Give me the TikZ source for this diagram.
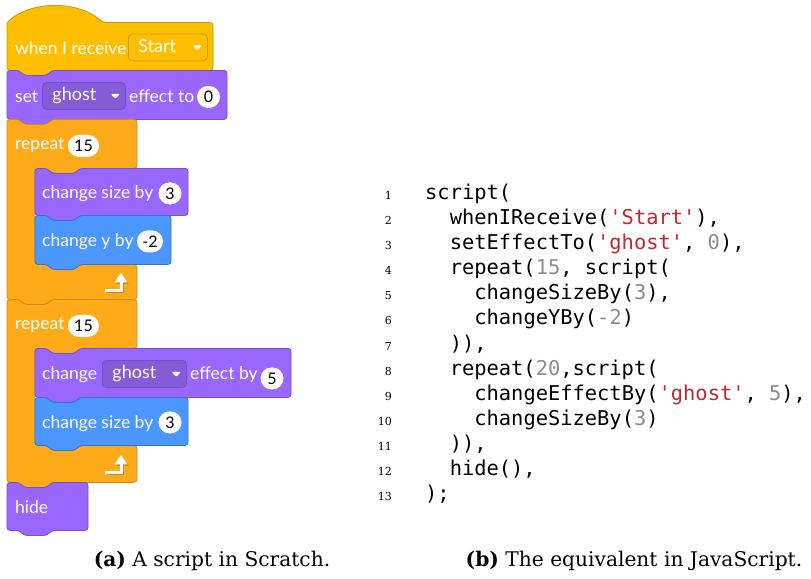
\documentclass[tikz,border=0pt]{standalone}
\usepackage{fontspec}
\setmainfont{DejaVu Serif}
\setmonofont{DejaVu Sans Mono}
\newfontfamily\scratchfont{Lato}
\usetikzlibrary{positioning}

\definecolor{evfill}{HTML}{FFBF00}
\definecolor{evline}{HTML}{CC9900}
\definecolor{lkfill}{HTML}{9966FF}
\definecolor{lkline}{HTML}{774DCB}
\definecolor{lkdrop}{HTML}{855CD6}
\definecolor{ctfill}{HTML}{FFAB19}
\definecolor{ctline}{HTML}{CF8B17}
\definecolor{mofill}{HTML}{4C97FF}
\definecolor{moline}{HTML}{3373CC}
\definecolor{jsred}{HTML}{C4262E}
\definecolor{jsgray}{HTML}{8C8C8C}

\newcommand\jsstr[1]{\textcolor{jsred}{#1}}
\newcommand\jsnum[1]{\textcolor{jsgray}{#1}}

% stack block: x, y, width, height, fill, line
\newcommand\stackblk[6]{%
    \draw[blk, fill=#5, draw=#6] (#1,#2) -- (#1+12,#2) -- ++(5,5) -- ++(23,0) -- ++(5,-5)
        -- (#1+#3,#2) -- (#1+#3,#2+#4) -- (#1+45,#2+#4) -- ++(-5,5) -- ++(-23,0) -- ++(-5,-5)
        -- (#1,#2+#4) -- cycle;}
% repeat block: top, arm bottom, lower arm top, bottom
\newcommand\repeatblk[4]{%
    \draw[blk, fill=ctfill, draw=ctline] (7,#1) -- (19,#1) -- ++(5,5) -- ++(23,0) -- ++(5,-5)
        -- (137,#1) -- (137,#2) -- (80,#2) -- ++(-5,5) -- ++(-23,0) -- ++(-5,-5) -- (35,#2)
        -- (35,#3) -- (47,#3) -- ++(5,5) -- ++(23,0) -- ++(5,-5) -- (137,#3) -- (137,#4)
        -- (52,#4) -- ++(-5,5) -- ++(-23,0) -- ++(-5,-5) -- (7,#4) -- cycle;}
% loop arrow at centre height
\newcommand\looparrow[1]{%
    \begin{scope}[shift={(1.5,1.5)}]
        \draw[ctline, line width=3pt] (105,#1+8) -- (121,#1+8) -- (121,#1-0.5);
        \fill[ctline, rounded corners=0.8pt] (114.5,#1) -- (121,#1-9.5) -- (127.5,#1) -- cycle;
    \end{scope}
    \draw[white, line width=3pt] (105,#1+8) -- (121,#1+8) -- (121,#1-0.5);
    \fill[white, rounded corners=0.8pt] (114.5,#1) -- (121,#1-9.5) -- (127.5,#1) -- cycle;}
\newcommand\droptri[1]{%
    \fill[white, rounded corners=1pt] ([shift={(-15,-2)}]#1.east) -- ++(9,0) -- ++(-4.5,5) -- cycle;}

\tikzset{
    blk/.style={line width=0.8pt, rounded corners=3pt},
    lbl/.style={anchor=base west, inner sep=0, text=white, font=\scratchfont\fontsize{17.5}{20}\selectfont},
    num/.style={fill=white, rounded corners=11pt, minimum height=22pt, minimum width=23pt,
        inner xsep=5pt, inner ysep=0, text height=11.5pt, text depth=0pt, text=black,
        font=\scratchfont\fontsize{16}{18}\selectfont},
    drop/.style={rounded corners=4pt, line width=0.8pt, minimum height=27pt, inner xsep=10pt,
        inner ysep=0, text height=13pt, text depth=3pt, anchor=west, align=left, text=white,
        font=\scratchfont\fontsize{18}{20}\selectfont},
    code/.style={anchor=base west, inner sep=0, font=\ttfamily\fontsize{20.4}{24}\selectfont},
    lineno/.style={anchor=base east, inner sep=0, font=\fontsize{11}{13}\selectfont},
    captext/.style={anchor=base, inner sep=0, font=\fontsize{20.2}{24}\selectfont}
}

\begin{document}
\begin{tikzpicture}[x=1pt, y=-1pt]
    \fill[white] (0,0) rectangle (811,577);

    % Scratch script
    \draw[blk, fill=evfill, draw=evline] (7,69) -- (7,21) .. controls (32,-1) and (78,-1) .. (103,21)
        -- (213,21) -- (213,69) -- (52,69) -- ++(-5,5) -- ++(-23,0) -- ++(-5,-5) -- cycle;
    \node[lbl] (recv) at (15,53) {when I receive};
    \node[drop, fill=evfill, draw=evline, text width=59pt] (ddstart) at (128,46) {Start};
    \droptri{ddstart}

    \stackblk{7}{69}{220}{49}{lkfill}{lkline}
    \node[lbl] (set) at (15,101) {set};
    \node[drop, fill=lkdrop, draw=lkline, text width=63pt] (ddghosta) at (42,94.5) {ghost};
    \droptri{ddghosta}
    \node[lbl] (effto) at (129,101) {effect to};
    \node[num] (numzero) at (208.5,95.5) {0};

    \repeatblk{118}{167}{263}{298}
    \node[lbl] (repa) at (15,148) {repeat};
    \node[num, minimum width=31pt] (numrepa) at (83.5,144.5) {15};
    \looparrow{281}

    \stackblk{35}{167}{153}{47}{lkfill}{lkline}
    \node[lbl] (sizea) at (42,197.5) {change size by};
    \node[num] (numsizea) at (170,192) {3};

    \stackblk{35}{214}{136}{49}{mofill}{moline}
    \node[lbl] (chy) at (42,245) {change y by};
    \node[num, minimum width=26pt] (numy) at (150,240) {-2};

    \repeatblk{298}{347}{444}{481}
    \node[lbl] (repb) at (15,328) {repeat};
    \node[num, minimum width=31pt] (numrepb) at (83.5,324.5) {15};
    \looparrow{463}

    \stackblk{35}{347}{256}{49}{lkfill}{lkline}
    \node[lbl] (cheff) at (42,378) {change};
    \node[drop, fill=lkdrop, draw=lkline, text width=64pt] (ddghostb) at (102,372.5) {ghost};
    \droptri{ddghostb}
    \node[lbl] (effby) at (190,378) {effect by};
    \node[num] (numeff) at (272,377) {5};

    \stackblk{35}{396}{153}{48}{mofill}{moline}
    \node[lbl] (sizeb) at (42,427) {change size by};
    \node[num] (numsizeb) at (170,421) {3};

    \stackblk{7}{481}{81}{48}{lkfill}{lkline}
    \node[lbl] (hide) at (15,512) {hide};

    % JavaScript listing
    \foreach \i in {1,...,13}
        \node[lineno] (ln\i) at (392,{198+(\i-1)*25.1}) {\i};
    \node[code] (cl1) at (425,198) {script(};
    \node[code] (cl2) at (449.6,223.1) {whenIReceive(\jsstr{'Start'}),};
    \node[code] (cl3) at (449.6,248.2) {setEffectTo(\jsstr{'ghost'}, \jsnum{0}),};
    \node[code] (cl4) at (449.6,273.3) {repeat(\jsnum{15}, script(};
    \node[code] (cl5) at (474.2,298.4) {changeSizeBy(\jsnum{3}),};
    \node[code] (cl6) at (474.2,323.5) {changeYBy(\jsnum{-2})};
    \node[code] (cl7) at (449.6,348.6) {)),};
    \node[code] (cl8) at (449.6,373.7) {repeat(\jsnum{20},script(};
    \node[code] (cl9) at (474.2,398.8) {changeEffectBy(\jsstr{'ghost'}, \jsnum{5}),};
    \node[code] (cl10) at (474.2,423.9) {changeSizeBy(\jsnum{3})};
    \node[code] (cl11) at (449.6,449) {)),};
    \node[code] (cl12) at (449.6,474.1) {hide(),};
    \node[code] (cl13) at (425,499.2) {);};

    % captions
    \node[captext] (capa) at (212,565) {\textbf{(a)} A script in Scratch.};
    \node[captext] (capb) at (634,565) {\textbf{(b)} The equivalent in JavaScript.};
\end{tikzpicture}
\end{document}
